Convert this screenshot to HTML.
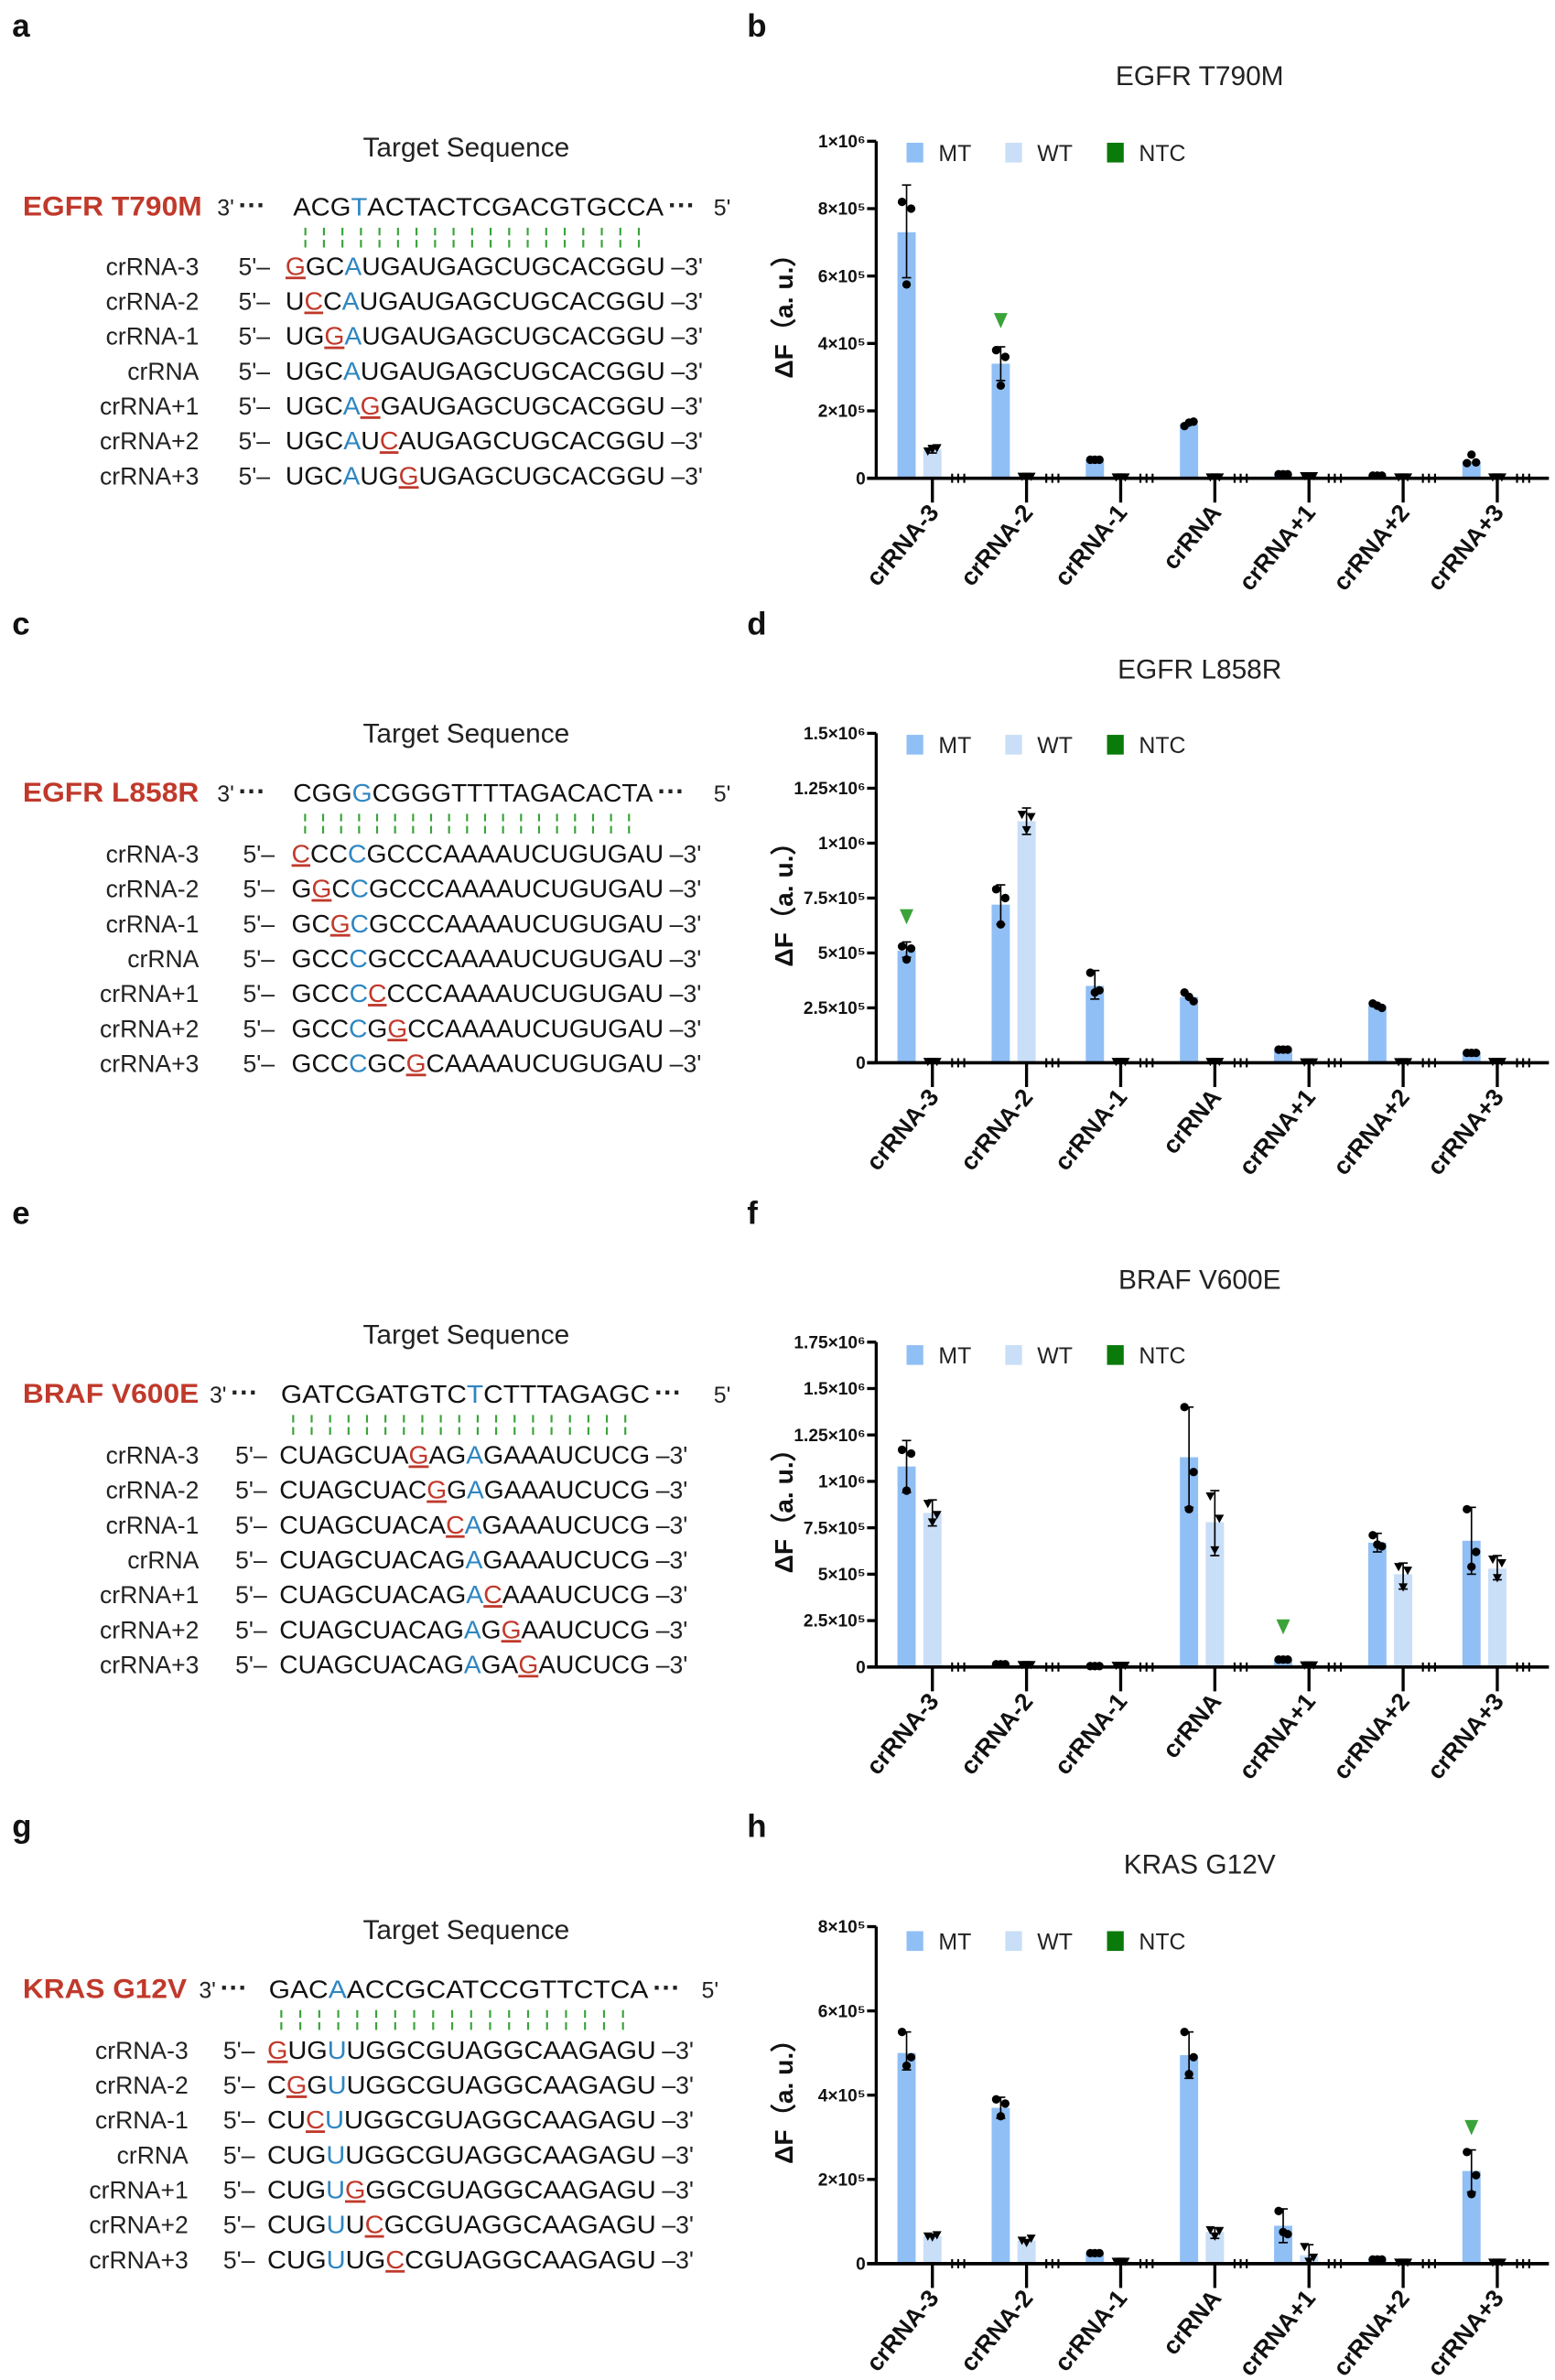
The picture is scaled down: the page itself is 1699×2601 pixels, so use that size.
<!DOCTYPE html>
<html><head><meta charset="utf-8">
<style>html,body{margin:0;padding:0;background:#fff}svg{display:block}</style>
</head><body>
<div id="c"></div>
<script>
var F='font-family="Liberation Sans, Arial, sans-serif"';
var s='';
function t(x,y,txt,sz,extra){s+='<text x="'+x+'" y="'+y+'" font-size="'+sz+'" '+F+' '+(extra||'')+'>'+txt+'</text>';}
function seq(x,y,str,len,sz){
  var out='';var i=0;
  while(i<str.length){var c=str[i];
    if(c=='['){out+='<tspan fill="#c0392b" text-decoration="underline">'+str[i+1]+'</tspan>';i+=3;}
    else if(c=='{'){out+='<tspan fill="#2e86c1">'+str[i+1]+'</tspan>';i+=3;}
    else{out+=c;i++;}
  }
  s+='<text x="'+x+'" y="'+y+'" font-size="'+sz+'" '+F+' fill="#111" textLength="'+len+'" lengthAdjust="spacingAndGlyphs">'+out+'</text>';
}
function left(o){
  t(307,o.tsY,'Target Sequence',18,'text-anchor="middle" fill="#222"');
  s+='<text x="15" y="'+o.gY+'" font-size="18" font-weight="bold" fill="#c0392b" '+F+' textLength="'+o.gw+'" lengthAdjust="spacingAndGlyphs">'+o.gene+'</text>';
  t(o.p3,o.gY,"3'",15,'fill="#222"');
  t(o.p3+14,o.gY-1,'···',18,'font-weight="bold" fill="#222"');
  seq(o.tx0,o.gY,o.target,o.tx1-o.tx0,17);
  t(o.tx1+3,o.gY-1,'···',18,'font-weight="bold" fill="#222"');
  t(o.p5,o.gY,"5'",15,'fill="#222"');
  var n=20,w=(o.tx1-o.tx0)/n;
  for(var k=0;k<n-1;k++){var xx=o.tx0+w*(k+0.5)+2;s+='<line x1="'+xx+'" y1="'+(o.gY+8)+'" x2="'+xx+'" y2="'+(o.gY+22)+'" stroke="#3aa33a" stroke-width="1.3" stroke-dasharray="5,3"/>';}
  var names=['crRNA-3','crRNA-2','crRNA-1','crRNA','crRNA+1','crRNA+2','crRNA+3'];
  for(var r=0;r<7;r++){var y=o.r0+23*r+6;
    t(o.nx,y,names[r],16,'text-anchor="end" fill="#222"');
    t(o.p5x,y,"5'–",16,'fill="#222"');
    seq(o.sx0,y,o.rows[r],o.sx1-o.sx0,17);
    t(o.sx1+4,y,"–3'",16,'fill="#222"');
  }
}
function chart(o){
  var ax=577,y0=o.y0,yt=o.yt;
  t(790,o.titleY+6,o.title,18,'text-anchor="middle" fill="#222"');
  function Y(v){return y0-(v/o.max)*(y0-yt);}
  var ly=o.legY;
  s+='<rect x="597" y="'+(ly-6)+'" width="11" height="13" fill="#90bff5"/>';t(618,ly+6,'MT',15,'fill="#222"');
  s+='<rect x="662" y="'+(ly-6)+'" width="11" height="13" fill="#c9def7"/>';t(683,ly+6,'WT',15,'fill="#222"');
  s+='<rect x="729" y="'+(ly-6)+'" width="11" height="13" fill="#0a7a0a"/>';t(750,ly+6,'NTC',15,'fill="#222"');
  s+='<line x1="'+ax+'" y1="'+yt+'" x2="'+ax+'" y2="'+y0+'" stroke="#000" stroke-width="2"/>';
  for(var i=0;i<o.ticks.length;i++){var yy=Y(o.ticks[i][0]);
    s+='<line x1="'+(ax-6)+'" y1="'+yy+'" x2="'+ax+'" y2="'+yy+'" stroke="#000" stroke-width="2"/>';
    t(ax-7,yy+4,o.ticks[i][1],11.5,'text-anchor="end" fill="#111" font-weight="bold"');
  }
  s+='<text transform="translate(522,'+((y0+yt)/2)+') rotate(-90)" text-anchor="middle" font-size="17" font-weight="bold" '+F+' fill="#111">ΔF（a. u.）</text>';
  var names=['crRNA-3','crRNA-2','crRNA-1','crRNA','crRNA+1','crRNA+2','crRNA+3'];
  for(var g=0;g<7;g++){var tk=614+62*g,d=o.data[g];
    var bw=12;
    var xm=tk-17,xw=tk;
    if(d[0]>0)s+='<rect x="'+(xm-bw/2)+'" y="'+Y(d[0])+'" width="'+bw+'" height="'+(y0-Y(d[0]))+'" fill="#90bff5"/>';
    if(d[1]>0)s+='<rect x="'+(xw-bw/2)+'" y="'+Y(d[1])+'" width="'+bw+'" height="'+(y0-Y(d[1]))+'" fill="#c9def7"/>';
    [[xm,d[2]],[xw,d[3]]].forEach(function(e){if(e[1]){var a=Y(e[1][0]),b=Y(e[1][1]);
      s+='<line x1="'+e[0]+'" y1="'+a+'" x2="'+e[0]+'" y2="'+b+'" stroke="#000" stroke-width="1"/><line x1="'+(e[0]-3)+'" y1="'+a+'" x2="'+(e[0]+3)+'" y2="'+a+'" stroke="#000"/><line x1="'+(e[0]-3)+'" y1="'+b+'" x2="'+(e[0]+3)+'" y2="'+b+'" stroke="#000"/>';}});
    var pm=d[4]||[d[0],d[0],d[0]];
    var off=[-3,3,0];
    for(var p=0;p<3;p++)s+='<circle cx="'+(xm+off[p])+'" cy="'+Y(pm[p])+'" r="2.8" fill="#000"/>';
    var pw=d[5]||[d[1],d[1],d[1]];
    for(var p=0;p<3;p++){var cx=xw+off[p],cy=Y(pw[p]);s+='<path d="M'+(cx-3)+' '+(cy-2.5)+'L'+(cx+3)+' '+(cy-2.5)+'L'+cx+' '+(cy+3)+'Z" fill="#000"/>';}
    for(var p=0;p<3;p++){var nx=tk+13+p*4;s+='<line x1="'+nx+'" y1="'+(y0-3)+'" x2="'+nx+'" y2="'+(y0+3)+'" stroke="#000" stroke-width="1.3"/>';}
    s+='<line x1="'+tk+'" y1="'+y0+'" x2="'+tk+'" y2="'+(y0+16)+'" stroke="#000" stroke-width="2"/>';
    s+='<text transform="translate('+(tk+5)+','+(y0+23)+') rotate(-50)" text-anchor="end" font-size="16" font-weight="bold" '+F+' fill="#111">'+names[g]+'</text>';
    if(o.arrow==g){var ay=Y(o.arrowV);s+='<path d="M'+(xm-4.5)+' '+(ay-10)+'L'+(xm+4.5)+' '+(ay-10)+'L'+xm+' '+ay+'Z" fill="#3aa33a"/>';}
  }
  s+='<line x1="'+(ax-6)+'" y1="'+y0+'" x2="1020" y2="'+y0+'" stroke="#000" stroke-width="2.2"/>';
}
[['a',8,24],['b',492,24],['c',8,418],['d',492,418],['e',8,806],['f',492,806],['g',8,1210],['h',492,1210]].forEach(function(l){t(l[1],l[2],l[0],21,'font-weight="bold" fill="#111"');});

left({tsY:103,gene:'EGFR T790M',gw:118,gY:142,p3:143,tx0:193,tx1:437,p5:470,target:'ACG{T}ACTACTCGACGTGCCA',r0:175,nx:131,p5x:157,sx0:188,sx1:438,
 rows:['[G]GC{A}UGAUGAGCUGCACGGU','U[C]C{A}UGAUGAGCUGCACGGU','UG[G]{A}UGAUGAGCUGCACGGU','UGC{A}UGAUGAGCUGCACGGU','UGC{A}[G]GAUGAGCUGCACGGU','UGC{A}U[C]AUGAGCUGCACGGU','UGC{A}UG[G]UGAGCUGCACGGU']});
left({tsY:489,gene:'EGFR L858R',gw:116,gY:528,p3:143,tx0:193,tx1:430,p5:470,target:'CGG{G}CGGGTTTTAGACACTA',r0:562,nx:131,p5x:160,sx0:192,sx1:437,
 rows:['[C]CC{C}GCCCAAAAUCUGUGAU','G[G]C{C}GCCCAAAAUCUGUGAU','GC[G]{C}GCCCAAAAUCUGUGAU','GCC{C}GCCCAAAAUCUGUGAU','GCC{C}[C]CCCAAAAUCUGUGAU','GCC{C}G[G]CCAAAAUCUGUGAU','GCC{C}GC[G]CAAAAUCUGUGAU']});
left({tsY:885,gene:'BRAF V600E',gw:116,gY:924,p3:138,tx0:185,tx1:428,p5:470,target:'GATCGATGTC{T}CTTTAGAGC',r0:958,nx:131,p5x:155,sx0:184,sx1:428,
 rows:['CUAGCUA[G]AG{A}GAAAUCUCG','CUAGCUAC[G]G{A}GAAAUCUCG','CUAGCUACA[C]{A}GAAAUCUCG','CUAGCUACAG{A}GAAAUCUCG','CUAGCUACAG{A}[C]AAAUCUCG','CUAGCUACAG{A}G[G]AAUCUCG','CUAGCUACAG{A}GA[G]AUCUCG']});
left({tsY:1277,gene:'KRAS G12V',gw:108,gY:1316,p3:131,tx0:177,tx1:427,p5:462,target:'GAC{A}ACCGCATCCGTTCTCA',r0:1350,nx:124,p5x:147,sx0:176,sx1:432,
 rows:['[G]UG{U}UGGCGUAGGCAAGAGU','C[G]G{U}UGGCGUAGGCAAGAGU','CU[C]{U}UGGCGUAGGCAAGAGU','CUG{U}UGGCGUAGGCAAGAGU','CUG{U}[G]GGCGUAGGCAAGAGU','CUG{U}U[C]GCGUAGGCAAGAGU','CUG{U}UG[C]CGUAGGCAAGAGU']});

chart({title:'EGFR T790M',titleY:50,legY:100,y0:315,yt:93,max:1e6,
 ticks:[[0,'0'],[2e5,'2×10⁵'],[4e5,'4×10⁵'],[6e5,'6×10⁵'],[8e5,'8×10⁵'],[1e6,'1×10⁶']],
 arrow:1,arrowV:4.45e5,
 data:[[7.3e5,0.85e5,[8.7e5,5.95e5],[0.97e5,0.75e5],[8.2e5,8.0e5,5.75e5],[0.8e5,0.9e5,0.85e5]],
  [3.4e5,0.05e5,[3.9e5,2.9e5],null,[3.8e5,3.6e5,2.75e5]],
  [0.55e5,0.03e5],[1.6e5,0.03e5,null,null,[1.55e5,1.68e5,1.65e5]],[0.12e5,0.07e5],[0.08e5,0.03e5],
  [0.5e5,0.03e5,null,null,[0.45e5,0.47e5,0.7e5]]]});
chart({title:'EGFR L858R',titleY:441,legY:490,y0:700,yt:483,max:1.5e6,
 ticks:[[0,'0'],[2.5e5,'2.5×10⁵'],[5e5,'5×10⁵'],[7.5e5,'7.5×10⁵'],[1e6,'1×10⁶'],[1.25e6,'1.25×10⁶'],[1.5e6,'1.5×10⁶']],
 arrow:0,arrowV:6.3e5,
 data:[[5.1e5,0.05e5,[5.5e5,4.8e5],null,[5.3e5,5.2e5,4.7e5]],
  [7.2e5,1.1e6,[8.1e5,6.3e5],[1.16e6,1.04e6],[7.9e5,7.5e5,6.3e5],[1.13e6,1.12e6,1.06e6]],
  [3.5e5,0.05e5,[4.2e5,2.9e5],null,[4.1e5,3.3e5,3.2e5]],[3.0e5,0.05e5,null,null,[3.2e5,2.8e5,3.0e5]],
  [0.6e5,0.03e5],[2.6e5,0.04e5,null,null,[2.7e5,2.5e5,2.6e5]],[0.45e5,0.05e5]]});
chart({title:'BRAF V600E',titleY:843,legY:892,y0:1098,yt:884,max:1.75e6,
 ticks:[[0,'0'],[2.5e5,'2.5×10⁵'],[5e5,'5×10⁵'],[7.5e5,'7.5×10⁵'],[1e6,'1×10⁶'],[1.25e6,'1.25×10⁶'],[1.5e6,'1.5×10⁶'],[1.75e6,'1.75×10⁶']],
 arrow:4,arrowV:1.75e5,
 data:[[1.08e6,8.3e5,[1.22e6,0.94e6],[0.9e6,0.76e6],[1.17e6,1.15e6,0.95e6],[0.88e6,0.82e6,0.78e6]],
  [0.015e6,0.012e6],[0.005e6,0.008e6],
  [1.13e6,7.8e5,[1.4e6,0.86e6],[0.95e6,0.6e6],[1.4e6,1.05e6,0.85e6],[0.92e6,0.8e6,0.63e6]],
  [0.04e6,0.01e6],
  [6.7e5,5.0e5,[7.2e5,6.2e5],[5.6e5,4.2e5],[7.1e5,6.5e5,6.6e5],[5.4e5,5.2e5,4.3e5]],
  [6.8e5,5.3e5,[8.6e5,5.0e5],[6.0e5,4.7e5],[8.5e5,6.2e5,5.4e5],[5.8e5,5.6e5,4.8e5]]]});
chart({title:'KRAS G12V',titleY:1228,legY:1278,y0:1491,yt:1269,max:8e5,
 ticks:[[0,'0'],[2e5,'2×10⁵'],[4e5,'4×10⁵'],[6e5,'6×10⁵'],[8e5,'8×10⁵']],
 arrow:6,arrowV:3.05e5,
 data:[[5.0e5,0.65e5,[5.5e5,4.6e5],null,[5.5e5,4.9e5,4.7e5],[0.65e5,0.68e5,0.63e5]],
  [3.7e5,0.55e5,[3.95e5,3.45e5],null,[3.9e5,3.8e5,3.5e5],[0.55e5,0.6e5,0.5e5]],
  [0.25e5,0.05e5],
  [4.95e5,0.75e5,[5.5e5,4.4e5],[0.85e5,0.6e5],[5.5e5,4.9e5,4.5e5],[0.8e5,0.78e5,0.65e5]],
  [0.9e5,0.2e5,[1.3e5,0.5e5],[0.45e5,0.02e5],[1.25e5,0.7e5,0.75e5],[0.4e5,0.15e5,0.05e5]],
  [0.1e5,0.03e5],
  [2.2e5,0.03e5,[2.7e5,1.7e5],null,[2.65e5,2.1e5,1.65e5]]]});

document.getElementById('c').innerHTML='<svg xmlns="http://www.w3.org/2000/svg" width="1699" height="2601" viewBox="0 0 1024 1567.6">'+s+'</svg>';
</script>
</body></html>
